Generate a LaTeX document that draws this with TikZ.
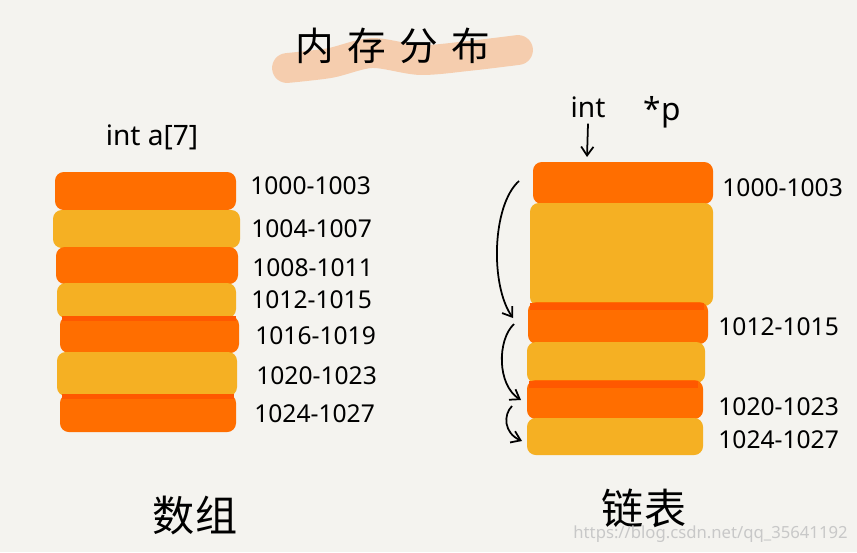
\documentclass[tikz,border=0pt]{standalone}
\usepackage{fontspec}
\setmainfont{Noto Sans}
\newfontfamily\cjk{Noto Sans CJK SC}
\usetikzlibrary{arrows.meta,positioning}
\definecolor{paper}{RGB}{244,243,239}
\definecolor{hotorange}{RGB}{255,110,0}
\definecolor{deeporange}{RGB}{255,88,0}
\definecolor{amber}{RGB}{245,176,35}
\definecolor{peach}{RGB}{246,196,158}
\definecolor{mark}{RGB}{200,200,200}
\def\band[#1](#2,#3)(#4,#5){\fill[#1, rounded corners=5] (#2,#3) rectangle (#4,#5);}
\tikzset{
  addr/.style={font=\fontsize{14}{16}\selectfont, anchor=west, inner sep=0pt},
  hand/.style={line width=1pt, -{Straight Barb[length=5pt,width=7pt]}},
}

\begin{document}
\begin{tikzpicture}[x=0.02cm, y=-0.02cm]
		%%%%% START %%%%%
		\fill[paper] (0,0) rectangle (857,552);
		\useasboundingbox (0,0) rectangle (857,552);
		
		% title with brush stroke
		\draw[peach, line width=17pt, line cap=round, opacity=0.8] plot[smooth] coordinates {(287,68) (330,63) (372,53) (420,60) (468,56) (518,50)};
		\node[font=\cjk\fontsize{22}{24}\selectfont] (title) at (393,46) {内\hspace{0.35em}存\hspace{0.35em}分\hspace{0.35em}布};
		
		% array
		\node[font=\fontsize{16}{18}\selectfont] (arr) at (152,137) {int a[7]};
		\band[hotorange](55,172)(236,210)
		\band[amber](53,210)(240,248)
		\band[hotorange](56,247)(238,284)
		\band[amber](57,283)(236,318)
		\band[hotorange](60,316)(239,353)
		\fill[deeporange] (62,316) rectangle (236,321);
		\band[amber](57,352)(237,396)
		\band[hotorange](60,394)(236,432)
		\fill[deeporange] (62,394) rectangle (234,399);
		
		\node[addr] (a0) at (250,186) {1000-1003};
		\node[addr] (a1) at (251,229) {1004-1007};
		\node[addr] (a2) at (252,268) {1008-1011};
		\node[addr] (a3) at (251,300) {1012-1015};
		\node[addr] (a4) at (255,336) {1016-1019};
		\node[addr] (a5) at (256,376) {1020-1023};
		\node[addr] (a6) at (254,414) {1024-1027};
		
		% list
		\node[font=\fontsize{16}{18}\selectfont] (ptype) at (588,107) {int};
		\node[font=\fontsize{18}{20}\selectfont] (pname) at (662,112) {*p};
		\coordinate (head) at (587,157);
		\draw[hand] (ptype.south) -- (head);
		
		\band[hotorange](533,162)(713,204)
		\band[amber](530,203)(713,306)
		\band[hotorange](528,302)(708,344)
		\fill[deeporange] (530,303) rectangle (704,310);
		\band[amber](527,342)(705,383)
		\band[hotorange](527,380)(703,419)
		\fill[deeporange] (529,381) rectangle (698,388);
		\band[amber](527,418)(703,455)
		
		\node[addr] (b0) at (722,188) {1000-1003};
		\node[addr] (b1) at (718,327) {1012-1015};
		\node[addr] (b2) at (718,407) {1020-1023};
		\node[addr] (b3) at (718,440) {1024-1027};
		
		\coordinate (n0) at (519,181);
		\coordinate (n1) at (513,318);
		\coordinate (n2) at (514,324);
		\coordinate (n3) at (521,400);
		\coordinate (n4) at (512,406);
		\coordinate (n5) at (522,441);
		\draw[hand] (n0) .. controls (492,205) and (490,285) .. (n1);
		\draw[hand] (n2) .. controls (497,340) and (497,385) .. (n3);
		\draw[hand] (n4) .. controls (503,415) and (504,433) .. (n5);
		
		% captions
		\node[font=\cjk\fontsize{24}{26}\selectfont] (arrcap) at (195,516) {数组};
		\node[font=\cjk\fontsize{24}{26}\selectfont] (listcap) at (644,508) {链表};
		\node[font=\fontsize{9.5}{11}\selectfont, text=mark, anchor=east, inner sep=0pt] (url) at (848,534) {https://blog.csdn.net/qq\_35641192};
		%%%%% END %%%%%
\end{tikzpicture}
\end{document}
